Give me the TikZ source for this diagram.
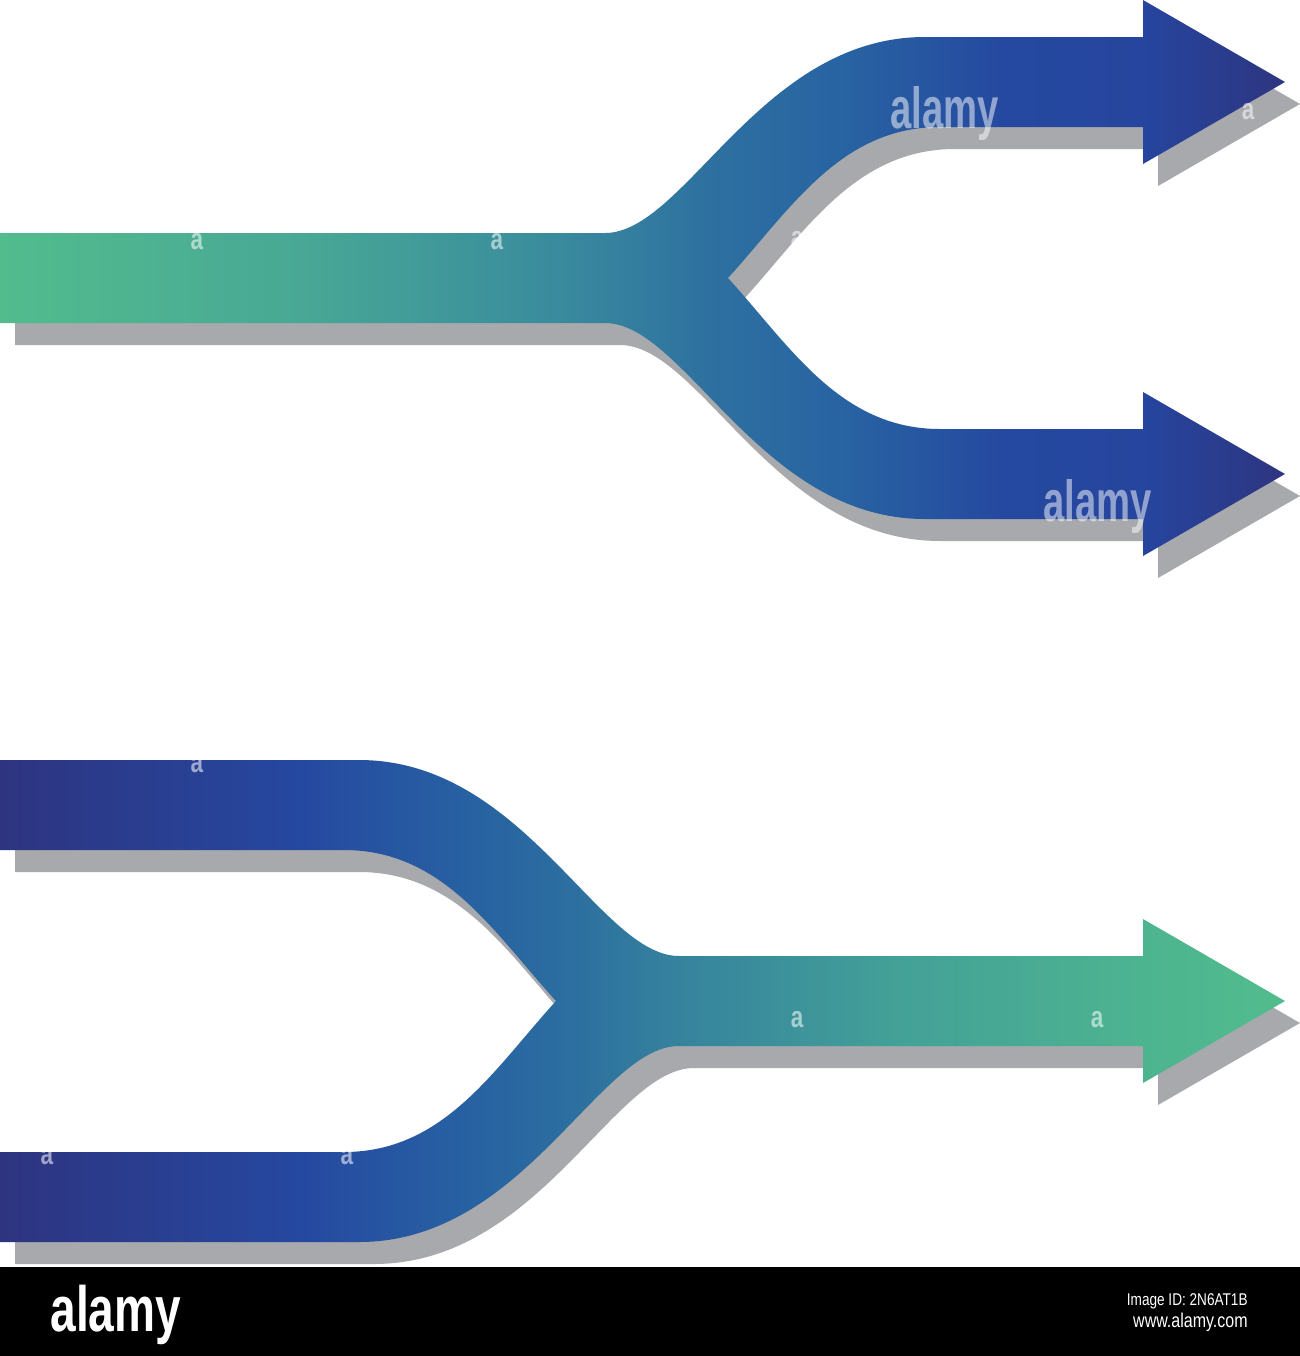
\documentclass[tikz,border=0pt]{standalone}
\usepackage{fontspec}
\setmainfont{Liberation Sans}
\definecolor{shadowgray}{HTML}{A7A9AC}
\definecolor{s0}{HTML}{52BC8D}
\definecolor{s1}{HTML}{48A895}
\definecolor{s2}{HTML}{3A8C9D}
\definecolor{s3}{HTML}{2E72A0}
\definecolor{s4}{HTML}{2862A2}
\definecolor{s5}{HTML}{2549A0}
\definecolor{s6}{HTML}{26459E}
\definecolor{s7}{HTML}{2E3580}
\definecolor{m0}{HTML}{2E3480}
\definecolor{m1}{HTML}{2548A0}
\definecolor{m2}{HTML}{275FA2}
\definecolor{m3}{HTML}{2B6DA0}
\definecolor{m4}{HTML}{37869D}
\definecolor{m5}{HTML}{43A197}
\definecolor{m6}{HTML}{4DB490}
\definecolor{m7}{HTML}{52BC8D}
\pgfdeclarehorizontalshading{splitshade}{100bp}{color(0bp)=(s0); color(25bp)=(s0); color(36.67bp)=(s1); color(46.40bp)=(s2); color(52.24bp)=(s3); color(58.07bp)=(s4); color(63.91bp)=(s5); color(69.47bp)=(s6); color(75bp)=(s7); color(100bp)=(s7)}
\pgfdeclarehorizontalshading{mergeshade}{100bp}{color(0bp)=(m0); color(25bp)=(m0); color(36.67bp)=(m1); color(42.51bp)=(m2); color(46.79bp)=(m3); color(52.24bp)=(m4); color(60.02bp)=(m5); color(69.47bp)=(m6); color(75bp)=(m7); color(100bp)=(m7)}
\begin{document}
\begin{tikzpicture}[x=0.5pt,y=-0.5pt,
  shadowfill/.style={fill=shadowgray},
  splitfill/.style={shade,shading=splitshade},
  mergefill/.style={shade,shading=mergeshade},
  wmark/.style={text=white,text opacity=0.5,inner sep=0pt,anchor=base west,font=\bfseries\fontsize{29}{29}\selectfont},
  smalla/.style={text=white,text opacity=0.55,inner sep=0pt,font=\bfseries\fontsize{15}{15}\selectfont},
  bartext/.style={text=white,inner sep=0pt}]
\useasboundingbox (0,0) rectangle (1300,1356);
\fill[white] (0,0) rectangle (1300,1356);
% ---------- split arrow: shadow ----------
\path[shadowfill,shift={(15,22)}] (0,233) -- (605,233) .. controls (685,233) and (760,37) .. (925,37) -- (1143,37) -- (1143,0) -- (1285,82) -- (1143,164) -- (1143,127) -- (940,127) .. controls (840,127) and (790,210) .. (728,278) .. controls (790,346) and (840,429) .. (940,429) -- (1143,429) -- (1143,392) -- (1285,474) -- (1143,556) -- (1143,519) -- (925,519) .. controls (760,519) and (685,323) .. (605,323) -- (0,323) -- cycle;
% ---------- split arrow ----------
\path[splitfill] (0,233) -- (605,233) .. controls (685,233) and (760,37) .. (925,37) -- (1143,37) -- (1143,0) -- (1285,82) -- (1143,164) -- (1143,127) -- (940,127) .. controls (840,127) and (790,210) .. (728,278) .. controls (790,346) and (840,429) .. (940,429) -- (1143,429) -- (1143,392) -- (1285,474) -- (1143,556) -- (1143,519) -- (925,519) .. controls (760,519) and (685,323) .. (605,323) -- (0,323) -- cycle;
% ---------- merge arrow: shadow ----------
\path[shadowfill,shift={(15,22)}] (0,760) -- (359,760) .. controls (524,760) and (599,956) .. (679,956) -- (1143,956) -- (1143,919) -- (1285,1001) -- (1143,1083) -- (1143,1046) -- (679,1046) .. controls (599,1046) and (524,1242) .. (359,1242) -- (0,1242) -- (0,1152) -- (344,1152) .. controls (444,1152) and (494,1069) .. (556,1001) .. controls (494,933) and (444,850) .. (344,850) -- (0,850) -- cycle;
% ---------- merge arrow ----------
\path[mergefill] (0,760) -- (359,760) .. controls (524,760) and (599,956) .. (679,956) -- (1143,956) -- (1143,919) -- (1285,1001) -- (1143,1083) -- (1143,1046) -- (679,1046) .. controls (599,1046) and (524,1242) .. (359,1242) -- (0,1242) -- (0,1152) -- (344,1152) .. controls (444,1152) and (494,1069) .. (556,1001) .. controls (494,933) and (444,850) .. (344,850) -- (0,850) -- cycle;
% ---------- watermarks ----------
\node[wmark] (wm1) at (890,128) {\scalebox{0.66}[1]{alamy}};
\node[wmark] (wm2) at (1043,521) {\scalebox{0.66}[1]{alamy}};
\node[smalla] (a1) at (197,242) {\scalebox{0.75}[1]{a}};
\node[smalla] (a2) at (497,242) {\scalebox{0.75}[1]{a}};
\node[smalla] (a3) at (797,240) {\scalebox{0.75}[1]{a}};
\node[smalla] (a4) at (1248,112) {\scalebox{0.75}[1]{a}};
\node[smalla] (a5) at (797,1020) {\scalebox{0.75}[1]{a}};
\node[smalla] (a6) at (1097,1020) {\scalebox{0.75}[1]{a}};
\node[smalla] (a7) at (197,765) {\scalebox{0.75}[1]{a}};
\node[smalla] (a8) at (347,1157) {\scalebox{0.75}[1]{a}};
\node[smalla] (a9) at (47,1157) {\scalebox{0.75}[1]{a}};
% ---------- bottom bar ----------
\fill[black] (0,1267) rectangle (1300,1356);
\node[bartext,anchor=base west,font=\bfseries\fontsize{32}{32}\selectfont] (logo) at (50,1331) {\scalebox{0.72}[1]{alamy}};
\node[bartext,anchor=base east,font=\fontsize{8.5}{9}\selectfont] (imgid) at (1248,1305) {\scalebox{0.8}[1]{Image ID: 2N6AT1B}};
\node[bartext,anchor=base east,font=\fontsize{10}{11}\selectfont] (www) at (1248,1327) {\scalebox{0.8}[1]{www.alamy.com}};
\end{tikzpicture}
\end{document}
